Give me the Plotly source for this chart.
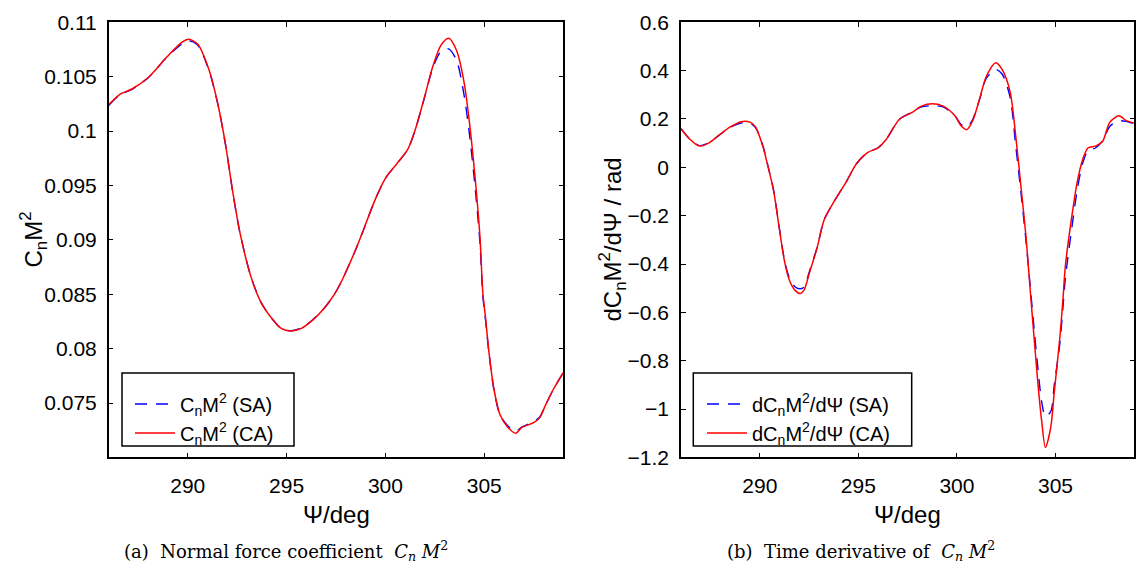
import plotly.graph_objects as go

# ---------------- data: (a) normal force coefficient ----------------
psi_a = [286.0, 286.55, 287.2, 288.0, 288.95, 289.7, 290.05, 290.5, 291.07, 291.53,
         291.9, 292.27, 292.64, 293.2, 293.72, 294.27, 294.73, 295.2, 295.75, 296.3,
         296.86, 297.4, 297.78, 298.45, 298.9, 299.46, 300.0, 300.57, 301.13, 301.5,
         301.96, 302.4, 302.8, 303.2, 303.6, 303.98, 304.26, 304.54, 304.78, 304.93,
         305.05, 305.25, 305.5, 305.8, 306.2, 306.6, 306.9, 307.5, 307.8, 308.1,
         308.5, 309.0]
cn_ca = [0.10242, 0.10336, 0.10389, 0.10492, 0.10683, 0.10815, 0.10844, 0.10800, 0.10565, 0.10242,
         0.09889, 0.09449, 0.09067, 0.08660, 0.08421, 0.08274, 0.08186, 0.08163, 0.08186, 0.08260,
         0.08362, 0.08494, 0.08620, 0.08891, 0.09096, 0.09361, 0.09566, 0.09698, 0.09831, 0.10007,
         0.10301, 0.10595, 0.10786, 0.10853, 0.10741, 0.10448, 0.10066, 0.09566, 0.09037, 0.08510,
         0.08310, 0.07950, 0.07620, 0.07392, 0.07276, 0.07223, 0.07276, 0.07320, 0.07364, 0.07481,
         0.07627, 0.07780]
cn_sa = [0.10235, 0.10330, 0.10385, 0.10490, 0.10680, 0.10800, 0.10830, 0.10790, 0.10560, 0.10240,
         0.09885, 0.09445, 0.09065, 0.08660, 0.08421, 0.08274, 0.08186, 0.08165, 0.08190, 0.08262,
         0.08362, 0.08494, 0.08620, 0.08891, 0.09096, 0.09361, 0.09566, 0.09698, 0.09831, 0.10007,
         0.10295, 0.10580, 0.10730, 0.10756, 0.10650, 0.10330, 0.09960, 0.09480, 0.08980, 0.08480,
         0.08290, 0.07940, 0.07610, 0.07390, 0.07290, 0.07240, 0.07280, 0.07330, 0.07370, 0.07481,
         0.07627, 0.07780]

# ---------------- data: (b) time derivative ----------------
psi_b = [286.0, 286.48, 286.94, 287.4, 287.95, 288.5, 289.05, 289.5, 289.78, 290.15,
         290.4, 290.7, 290.97, 291.25, 291.5, 291.8, 292.05, 292.25, 292.5, 292.9,
         293.27, 293.8, 294.4, 294.9, 295.46, 296.0, 296.4, 296.75, 297.1, 297.7,
         298.2, 298.75, 299.3, 299.9, 300.2, 300.5, 300.8, 301.16, 301.5, 301.98,
         302.3, 302.7, 302.97, 303.27, 303.5, 303.75, 303.93, 304.12, 304.3, 304.49,
         304.76, 304.94, 305.22, 305.38, 305.5, 305.83, 306.11, 306.39, 306.66, 307.03,
         307.39, 307.76, 308.22, 308.59, 309.0]
d_ca = [0.160, 0.114, 0.088, 0.100, 0.134, 0.167, 0.189, 0.187, 0.167, 0.088,
        0.008, -0.097, -0.243, -0.388, -0.467, -0.510, -0.522, -0.507, -0.441, -0.335,
        -0.216, -0.137, -0.058, 0.015, 0.061, 0.081, 0.114, 0.160, 0.200, 0.226,
        0.253, 0.263, 0.253, 0.213, 0.173, 0.156, 0.193, 0.286, 0.378, 0.433,
        0.404, 0.312, 0.140, -0.097, -0.282, -0.540, -0.719, -0.904, -1.049, -1.159,
        -1.076, -0.930, -0.706, -0.547, -0.410, -0.203, -0.058, 0.035, 0.081, 0.088,
        0.107, 0.187, 0.213, 0.193, 0.183]
d_sa = [0.160, 0.114, 0.090, 0.102, 0.134, 0.165, 0.183, 0.182, 0.165, 0.090,
        0.010, -0.095, -0.240, -0.383, -0.458, -0.495, -0.502, -0.495, -0.435, -0.332,
        -0.216, -0.137, -0.058, 0.015, 0.061, 0.081, 0.114, 0.160, 0.200, 0.228,
        0.250, 0.255, 0.250, 0.213, 0.178, 0.166, 0.198, 0.284, 0.370, 0.405,
        0.385, 0.290, 0.100, -0.120, -0.300, -0.520, -0.680, -0.840, -0.970, -1.030,
        -1.010, -0.900, -0.730, -0.580, -0.460, -0.250, -0.090, 0.020, 0.070, 0.080,
        0.110, 0.170, 0.192, 0.190, 0.180]

x_ticks = [290, 295, 300, 305]
y_ticks_a = [0.075, 0.08, 0.085, 0.09, 0.095, 0.1, 0.105, 0.11]
y_text_a = ["0.075", "0.08", "0.085", "0.09", "0.095", "0.1", "0.105", "0.11"]
y_ticks_b = [-1.2, -1.0, -0.8, -0.6, -0.4, -0.2, 0, 0.2, 0.4, 0.6]
y_text_b = ["−1.2", "−1", "−0.8", "−0.6", "−0.4", "−0.2", "0", "0.2", "0.4", "0.6"]

W, H = 1139, 576
def px(x):
    return x / W
def py(y):
    return 1 - y / H

BLUE = "#0000ff"
RED = "#ff0000"
SANS = "Liberation Sans, Arial, sans-serif"
TICKFONT = dict(family=SANS, size=21, color="black")
TITLEFONT = dict(family=SANS, size=24, color="black")
LEGFONT = dict(family=SANS, size=20, color="black")
CAPFONT = dict(family="DejaVu Serif, serif", size=18, color="black")
DASH = "12px,9px"

fig = go.Figure()

fig.add_trace(go.Scatter(x=psi_a, y=cn_sa, mode="lines", name="C<sub>n</sub>M<sup>2</sup> (SA)",
                         line=dict(color=BLUE, width=1.4, dash=DASH, shape="spline", smoothing=0.8),
                         xaxis="x", yaxis="y", legend="legend"))
fig.add_trace(go.Scatter(x=psi_a, y=cn_ca, mode="lines", name="C<sub>n</sub>M<sup>2</sup> (CA)",
                         line=dict(color=RED, width=1.5, shape="spline", smoothing=0.8),
                         xaxis="x", yaxis="y", legend="legend"))
fig.add_trace(go.Scatter(x=psi_b, y=d_sa, mode="lines", name="dC<sub>n</sub>M<sup>2</sup>/dΨ (SA)",
                         line=dict(color=BLUE, width=1.4, dash=DASH, shape="spline", smoothing=0.8),
                         xaxis="x2", yaxis="y2", legend="legend2"))
fig.add_trace(go.Scatter(x=psi_b, y=d_ca, mode="lines", name="dC<sub>n</sub>M<sup>2</sup>/dΨ (CA)",
                         line=dict(color=RED, width=1.5, shape="spline", smoothing=0.8),
                         xaxis="x2", yaxis="y2", legend="legend2"))

axis_common = dict(showline=True, linecolor="black", linewidth=1.5, mirror="ticks",
                   ticks="inside", ticklen=5, tickwidth=1, tickcolor="black",
                   showgrid=False, zeroline=False, tickfont=TICKFONT,
                   ticklabeloverflow="allow")

x_dom_a = [px(108.7), px(563.3)]
x_dom_b = [px(681), px(1134.3)]
y_dom = [py(464), py(10.7)]
EPS_A = 1e-6
EPS_B = 1e-4

legend_common = dict(xanchor="left", yanchor="top", bgcolor="rgba(0,0,0,0)",
                     borderwidth=0, font=LEGFONT, itemwidth=40, tracegroupgap=0)

fig.update_layout(
    width=W, height=H,
    font=dict(family=SANS, size=20, color="black"),
    margin=dict(l=0, r=0, t=0, b=0),
    paper_bgcolor="white", plot_bgcolor="white",
    xaxis=dict(domain=x_dom_a, range=[286, 309], tickvals=x_ticks, anchor="y",
               ticklabelstandoff=9, **axis_common),
    yaxis=dict(domain=y_dom, range=[0.07 - EPS_A, 0.11 + EPS_A], tickvals=y_ticks_a,
               ticktext=y_text_a, anchor="x", ticklabelstandoff=6, **axis_common),
    xaxis2=dict(domain=x_dom_b, range=[286, 309], tickvals=x_ticks, anchor="y2",
                ticklabelstandoff=9, **axis_common),
    yaxis2=dict(domain=y_dom, range=[-1.2 - EPS_B, 0.6 + EPS_B], tickvals=y_ticks_b,
                ticktext=y_text_b, anchor="x2", ticklabelstandoff=6, **axis_common),
    legend=dict(x=px(130), y=py(388), **legend_common),
    legend2=dict(x=px(702), y=py(388), **legend_common),
    showlegend=True,
)

shapes = [
    dict(type="rect", xref="paper", yref="paper", x0=px(122), x1=px(294), y0=py(452), y1=py(376),
         line=dict(color="black", width=1.5), fillcolor="white", layer="above"),
    dict(type="rect", xref="paper", yref="paper", x0=px(693.3), x1=px(911.7), y0=py(452), y1=py(376),
         line=dict(color="black", width=1.5), fillcolor="white", layer="above"),
]

annotations = [
    dict(text="Ψ/deg", x=px(336), y=py(523), xref="paper", yref="paper",
         showarrow=False, font=TITLEFONT, xanchor="center", yanchor="middle"),
    dict(text="Ψ/deg", x=px(907.6), y=py(523), xref="paper", yref="paper",
         showarrow=False, font=TITLEFONT, xanchor="center", yanchor="middle"),
    dict(text="C<sub>n</sub>M<sup>2</sup>", x=px(33), y=py(237), xref="paper", yref="paper",
         showarrow=False, font=TITLEFONT, textangle=-90, xanchor="center", yanchor="middle"),
    dict(text="dC<sub>n</sub>M<sup>2</sup>/dΨ / rad", x=px(612), y=py(237), xref="paper", yref="paper",
         showarrow=False, font=TITLEFONT, textangle=-90, xanchor="center", yanchor="middle"),
    dict(text="(a)  Normal force coefficient  <i>C<sub>n</sub> M</i><sup>2</sup>", x=px(285.5), y=py(561),
         xref="paper", yref="paper", showarrow=False, xanchor="center", yanchor="middle",
         font=CAPFONT),
    dict(text="(b)  Time derivative of  <i>C<sub>n</sub> M</i><sup>2</sup>", x=px(861), y=py(561),
         xref="paper", yref="paper", showarrow=False, xanchor="center", yanchor="middle",
         font=CAPFONT),
]
fig.update_layout(annotations=annotations, shapes=shapes)

fig.write_html("out.html")
